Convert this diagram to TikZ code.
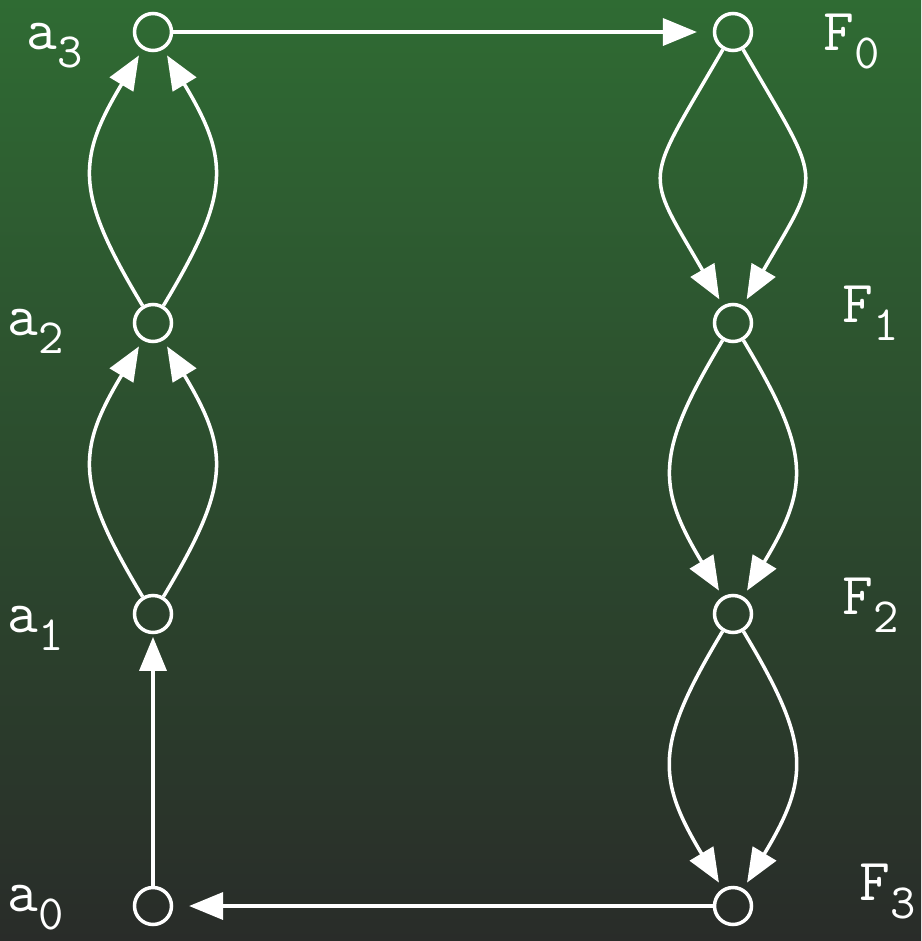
\documentclass[tikz,border=0pt]{standalone}
\usepackage{fontspec}
\usetikzlibrary{arrows.meta,positioning}
\definecolor{bgtop}{RGB}{47,107,51}
\definecolor{bgbot}{RGB}{41,44,41}
\newcommand{\sublbl}[2]{#1\raisebox{-10.8pt}{\fontsize{28}{28}\selectfont #2}}

\begin{document}
\begin{tikzpicture}[
    x=0.02cm, y=-0.02cm,
    state/.style={circle, draw=white, line width=2pt, minimum size=0.74cm,
                  inner sep=0pt},
    arr/.style={-{Triangle[length=0.68cm, width=0.54cm]}, line width=2pt, white},
    lbl/.style={anchor=base west, inner sep=0pt, text=white,
                font=\ttfamily\fontsize{34}{34}\selectfont}
]
\shade[top color=bgtop, bottom color=bgbot] (0,0) rectangle (921,941);
\useasboundingbox (0,0) rectangle (921,941);

\node[state] (a3) at (153,32)  {};
\node[state] (a2) at (153,323) {};
\node[state] (a1) at (153,614) {};
\node[state] (a0) at (153,906) {};
\node[state] (f0) at (733,32)  {};
\node[state] (f1) at (733,323) {};
\node[state] (f2) at (733,614) {};
\node[state] (f3) at (733,906) {};

\node[lbl] (la3) at (26,49)  {\sublbl{a}{3}};
\node[lbl] (la2) at (7,335)  {\sublbl{a}{2}};
\node[lbl] (la1) at (7,632)  {\sublbl{a}{1}};
\node[lbl] (la0) at (7,911)  {\sublbl{a}{0}};
\node[lbl] (lf0) at (823,50)  {\sublbl{F}{0}};
\node[lbl] (lf1) at (842,322) {\sublbl{F}{1}};
\node[lbl] (lf2) at (842,614) {\sublbl{F}{2}};
\node[lbl] (lf3) at (859,900) {\sublbl{F}{3}};

\draw[arr, shorten >=9pt] (a3) -- (f0);
\draw[arr, shorten >=9pt] (f3) -- (a0);
\draw[arr, shorten >=1.5pt] (a0) -- (a1);

\draw[arr, shorten >=4pt] (a1) to[bend left=31, looseness=1.3] (a2);
\draw[arr, shorten >=4pt] (a1) to[bend right=31, looseness=1.3] (a2);
\draw[arr, shorten >=4pt] (a2) to[bend left=31, looseness=1.3] (a3);
\draw[arr, shorten >=4pt] (a2) to[bend right=31, looseness=1.3] (a3);

\draw[arr, shorten >=4pt] (f0) to[bend left=30, looseness=1.6] (f1);
\draw[arr, shorten >=4pt] (f0) to[bend right=30, looseness=1.6] (f1);
\draw[arr, shorten >=4pt] (f1) to[bend left=31, looseness=1.3] (f2);
\draw[arr, shorten >=4pt] (f1) to[bend right=31, looseness=1.3] (f2);
\draw[arr, shorten >=4pt] (f2) to[bend left=31, looseness=1.3] (f3);
\draw[arr, shorten >=4pt] (f2) to[bend right=31, looseness=1.3] (f3);
\end{tikzpicture}
\end{document}
